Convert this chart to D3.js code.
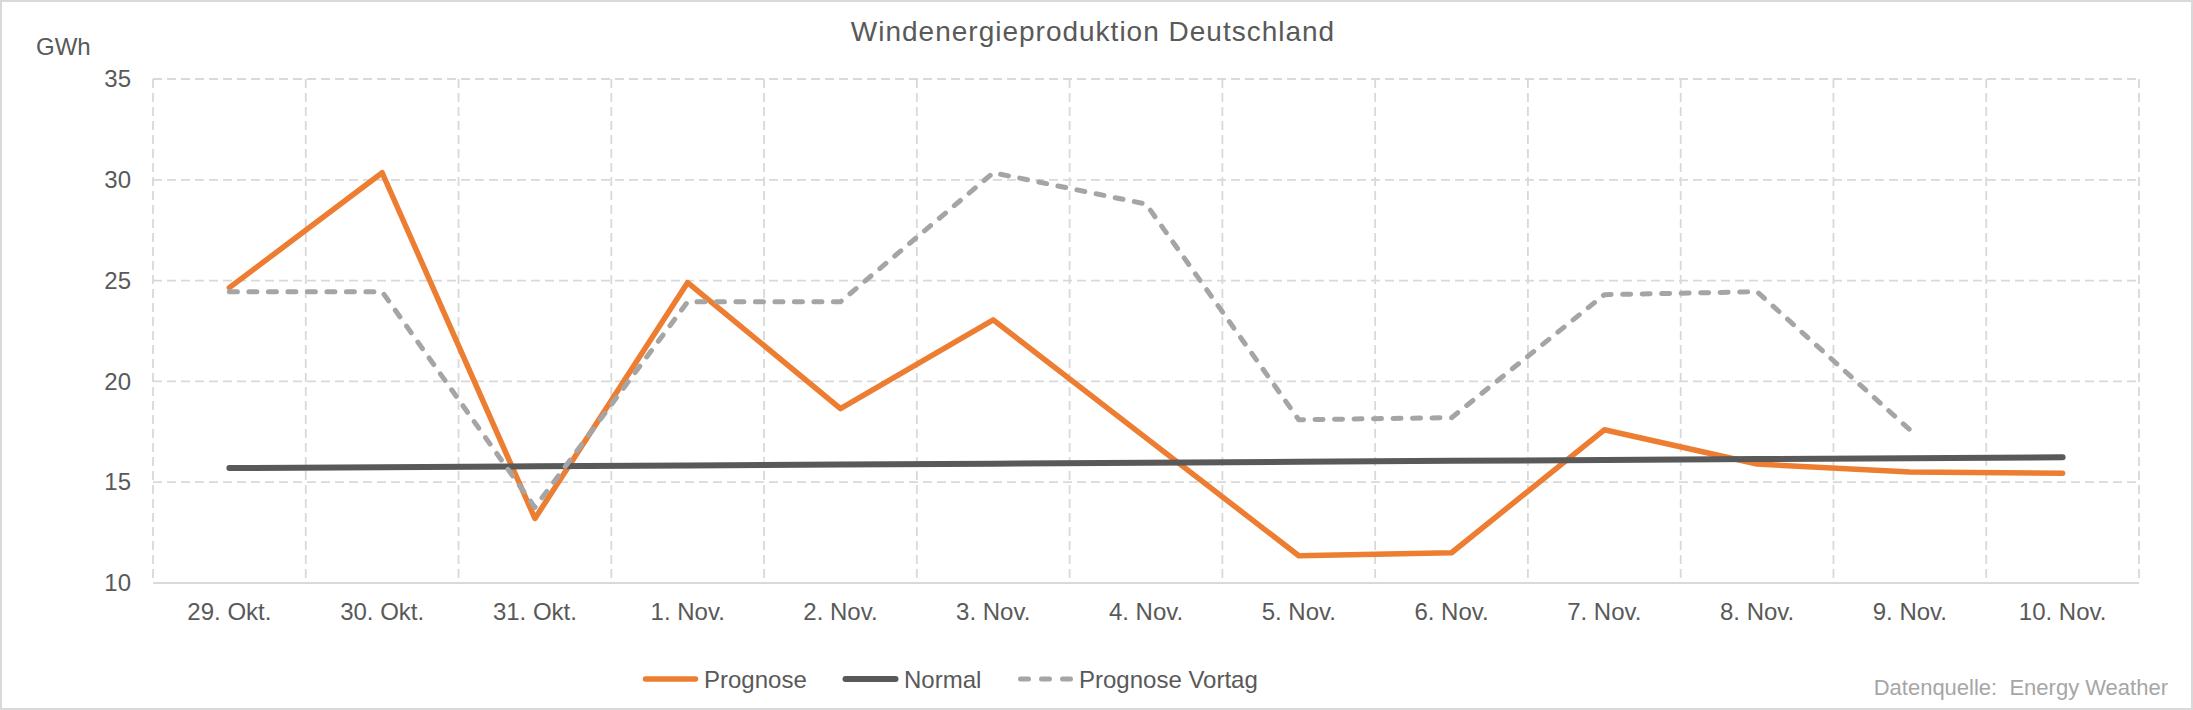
<!DOCTYPE html>
<html>
<head>
<meta charset="utf-8">
<script src="https://cdn.jsdelivr.net/npm/d3@7"></script>
<style>
  body { margin: 0; background: #fff; }
  svg { display: block; font-family: "Liberation Sans", Arial, sans-serif; }
</style>
</head>
<body>
<svg id="chart"></svg>
<script>
const categories = ['29. Okt.', '30. Okt.', '31. Okt.', '1. Nov.', '2. Nov.', '3. Nov.', '4. Nov.',
  '5. Nov.', '6. Nov.', '7. Nov.', '8. Nov.', '9. Nov.', '10. Nov.']
const prognose = [24.65, 30.35, 13.2, 24.9, 18.65, 23.05, 17.2, 11.35, 11.5, 17.6, 15.9, 15.5, 15.45]
const normal = [15.7, 15.74, 15.79, 15.83, 15.88, 15.92, 15.97, 16.01, 16.06, 16.1, 16.15, 16.19, 16.24]
const vortag = [24.45, 24.45, 13.75, 23.95, 23.95, 30.35, 28.8, 18.1, 18.2, 24.3, 24.45, 17.6, null]
const yTicks = [10, 15, 20, 25, 30, 35]

const width = 2193
const height = 710
const plot = { left: 153, right: 2139, top: 79, bottom: 583 }

const svg = d3.select('#chart')
  .attr('width', width)
  .attr('height', height)

// chart border
svg.append('rect')
  .attr('x', 1).attr('y', 1)
  .attr('width', width - 2).attr('height', height - 2)
  .attr('fill', '#fff')
  .attr('stroke', '#d9d9d9')
  .attr('stroke-width', 2)

const x = d3.scaleBand()
  .domain(categories)
  .range([plot.left, plot.right])
  .padding(0)

const y = d3.scaleLinear()
  .domain([10, 35])
  .range([plot.bottom, plot.top])

const cx = (d, i) => x(categories[i]) + x.bandwidth() / 2

// horizontal grid
svg.append('g')
  .selectAll('line')
  .data(yTicks.filter(t => t > 10))
  .enter()
  .append('line')
  .attr('x1', plot.left).attr('x2', plot.right)
  .attr('y1', d => y(d)).attr('y2', d => y(d))
  .attr('stroke', '#d9d9d9')
  .attr('stroke-width', 1.8)
  .attr('stroke-dasharray', '9 5')

// vertical grid on band edges
const edges = categories.map(c => x(c)).concat([plot.right])
svg.append('g')
  .selectAll('line')
  .data(edges)
  .enter()
  .append('line')
  .attr('x1', d => d).attr('x2', d => d)
  .attr('y1', plot.top).attr('y2', plot.bottom)
  .attr('stroke', '#d9d9d9')
  .attr('stroke-width', 1.8)
  .attr('stroke-dasharray', '9 5')

// x axis line
svg.append('line')
  .attr('x1', plot.left).attr('x2', plot.right)
  .attr('y1', y(10)).attr('y2', y(10))
  .attr('stroke', '#d9d9d9')
  .attr('stroke-width', 2)

// y axis labels
const yAxis = svg.append('g')
  .attr('transform', `translate(${plot.left - 22},0)`)
  .call(d3.axisLeft(y).tickValues(yTicks).tickSize(0).tickPadding(0))
yAxis.select('.domain').remove()
yAxis.selectAll('text')
  .attr('fill', '#595959')
  .style('font-size', '24px')
  .style('font-family', '"Liberation Sans", Arial, sans-serif')

// x axis labels
const xAxis = svg.append('g')
  .attr('transform', `translate(0,${plot.bottom})`)
  .call(d3.axisBottom(x).tickSize(0).tickPadding(20))
xAxis.select('.domain').remove()
xAxis.selectAll('text')
  .attr('fill', '#595959')
  .style('font-size', '24px')
  .style('font-family', '"Liberation Sans", Arial, sans-serif')

const line = d3.line()
  .defined(d => d != null)
  .x(cx)
  .y(d => y(d))

const series = [
  { name: 'Prognose', values: prognose, color: '#ED7D31', w: 5.5, dash: null },
  { name: 'Normal', values: normal, color: '#595959', w: 6, dash: null },
  { name: 'Prognose Vortag', values: vortag, color: '#A5A5A5', w: 5, dash: '8 11.5' }
]

series.forEach(s => {
  svg.append('path')
    .datum(s.values)
    .attr('d', line)
    .attr('fill', 'none')
    .attr('stroke', s.color)
    .attr('stroke-width', s.w)
    .attr('stroke-linecap', 'round')
    .attr('stroke-linejoin', 'round')
    .attr('stroke-dasharray', s.dash)
})

// title
svg.append('text')
  .attr('x', 1093)
  .attr('y', 41)
  .attr('text-anchor', 'middle')
  .attr('fill', '#595959')
  .style('font-size', '28px')
  .style('letter-spacing', '1px')
  .text('Windenergieproduktion Deutschland')

// unit label
svg.append('text')
  .attr('x', 36)
  .attr('y', 55)
  .attr('fill', '#595959')
  .style('font-size', '24px')
  .text('GWh')

// legend
const legendX = [643, 843, 1018]
const legend = svg.append('g')
series.forEach((s, i) => {
  legend.append('line')
    .attr('x1', legendX[i] + 2.5).attr('x2', legendX[i] + 52.5)
    .attr('y1', 679).attr('y2', 679)
    .attr('stroke', s.color)
    .attr('stroke-width', s.w)
    .attr('stroke-linecap', 'round')
    .attr('stroke-dasharray', s.dash ? '8 13' : null)
  legend.append('text')
    .attr('x', legendX[i] + 61)
    .attr('y', 688)
    .attr('fill', '#595959')
    .style('font-size', '24px')
    .text(s.name)
})

// source
svg.append('text')
  .attr('x', 2168)
  .attr('y', 695)
  .attr('text-anchor', 'end')
  .attr('fill', '#a6a6a6')
  .style('font-size', '22px')
  .style('white-space', 'pre')
  .text('Datenquelle:  Energy Weather')
</script>
</body>
</html>
